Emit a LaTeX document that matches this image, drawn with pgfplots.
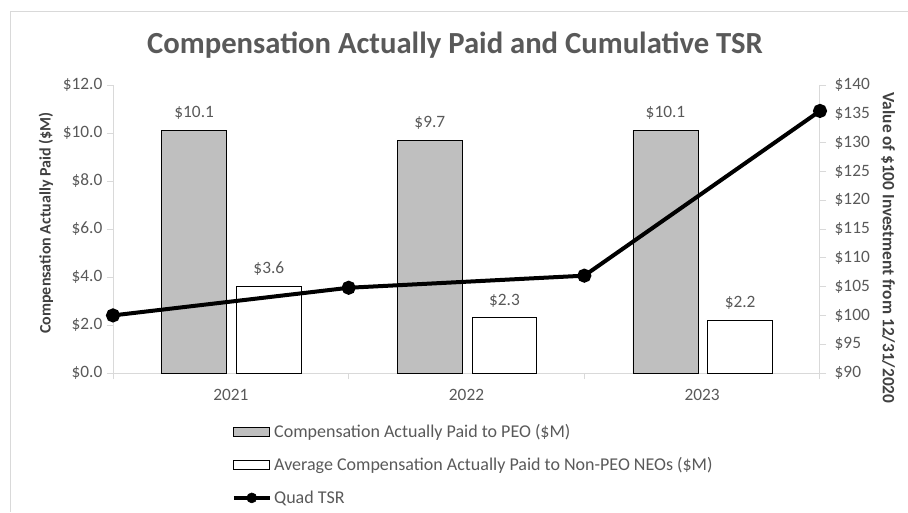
\documentclass[border=0pt]{standalone}
\usepackage{fontspec}
\setmainfont{Carlito}
\usepackage{pgfplots}
\pgfplotsset{compat=1.18}
\definecolor{tgray}{HTML}{595959}
\definecolor{lgray}{HTML}{D9D9D9}
\definecolor{bgray}{HTML}{BFBFBF}
\definecolor{dgray}{HTML}{404040}
\begin{document}
\begin{tikzpicture}[x=0.75pt,y=-0.75pt]
\path[use as bounding box] (0,0) rectangle (908,512);
\draw[lgray, line width=0.75pt] (10,512) -- (10,11) -- (908,11);
\node[font=\fontsize{23}{27}\selectfont\bfseries, text=tgray] at (455,45) {Compensation Actually Paid and Cumulative TSR};
\node[rotate=90, font=\fontsize{12}{14}\selectfont\bfseries, text=dgray] at (46,223) {Compensation Actually Paid (\$M)};
\node[rotate=-90, font=\fontsize{13}{15}\selectfont\bfseries, text=dgray] at (888,248) {Value of \$100 Investment from 12/31/2020};

\begin{axis}[
  at={(84.75pt,-279.75pt)}, anchor=south west,
  scale only axis, width=530.25pt, height=216pt,
  xmin=0.5, xmax=3.5, ymin=0, ymax=12,
  axis y line*=left, axis x line*=bottom,
  axis line style={lgray, line width=0.75pt},
  tick align=outside, major tick length=4.5pt,
  tick style={lgray, line width=0.75pt},
  xtick={0.5,1.5,2.5,3.5},
  x tick label as interval,
  xticklabels={2021,2022,2023,},
  x tick label style={yshift=-4pt},
  ytick={0,2,...,12},
  yticklabel={\$\pgfmathprintnumber[fixed,fixed zerofill,precision=1,assume math mode=true]{\tick}},
  tick label style={font=\fontsize{13}{15}\selectfont, text=tgray},
  point meta=y,
  nodes near coords={\$\pgfmathprintnumber[fixed,fixed zerofill,precision=1,assume math mode=true]{\pgfplotspointmeta}},
  every node near coord/.append style={font=\fontsize{13}{15}\selectfont, text=tgray, anchor=south, yshift=4.5pt},
  clip=false,
]
\addplot[ybar, bar width=48.75pt, bar shift=-27.5pt, fill=bgray, draw=black, line width=0.6pt,
  every node near coord/.append style={xshift=-27.5pt}]
  coordinates {(1,10.1) (2,9.7) (3,10.1)};
\addplot[ybar, bar width=48.5pt, bar shift=28.5pt, fill=white, draw=black, line width=0.6pt,
  every node near coord/.append style={xshift=28.5pt}]
  coordinates {(1,3.6) (2,2.3) (3,2.2)};
\end{axis}

\begin{axis}[
  at={(84.75pt,-279.75pt)}, anchor=south west,
  scale only axis, width=530.25pt, height=216pt,
  xmin=0.5, xmax=3.5, ymin=90, ymax=140,
  axis y line*=right, axis x line=none,
  axis line style={lgray, line width=0.75pt},
  tick align=outside, major tick length=4.5pt,
  tick style={lgray, line width=0.75pt},
  ytick={90,95,...,140},
  yticklabel={\$\pgfmathprintnumber[assume math mode=true]{\tick}},
  tick label style={font=\fontsize{13}{15}\selectfont, text=tgray},
  y tick label style={xshift=3pt},
  clip=false,
  legend style={at={(0.168,-0.168)}, anchor=north west, draw=none, fill=none,
    font=\fontsize{13.5}{16}\selectfont, text=tgray, row sep=9.5pt,
    cells={anchor=west}, inner sep=0pt},
]
\addlegendimage{legend image code/.code={\draw[fill=bgray, draw=black, line width=0.6pt] (0pt,-3.5pt) rectangle (27pt,3.5pt);}}
\addlegendentry{Compensation Actually Paid to PEO (\$M)}
\addlegendimage{legend image code/.code={\draw[fill=white, draw=black, line width=0.6pt] (0pt,-3.5pt) rectangle (27pt,3.5pt);}}
\addlegendentry{Average Compensation Actually Paid to Non-PEO NEOs (\$M)}
\addlegendimage{legend image code/.code={\draw[black, line width=2.6pt] (0pt,0pt) -- (27pt,0pt); \fill[black] (13.5pt,0pt) circle (3.75pt);}}
\addlegendentry{Quad TSR}
\addplot[black, line width=3pt, mark=*, mark size=3.75pt, forget plot]
  coordinates {(0.5,100) (1.5,104.8) (2.5,106.9) (3.5,135.5)};
\end{axis}
\end{tikzpicture}
\end{document}
